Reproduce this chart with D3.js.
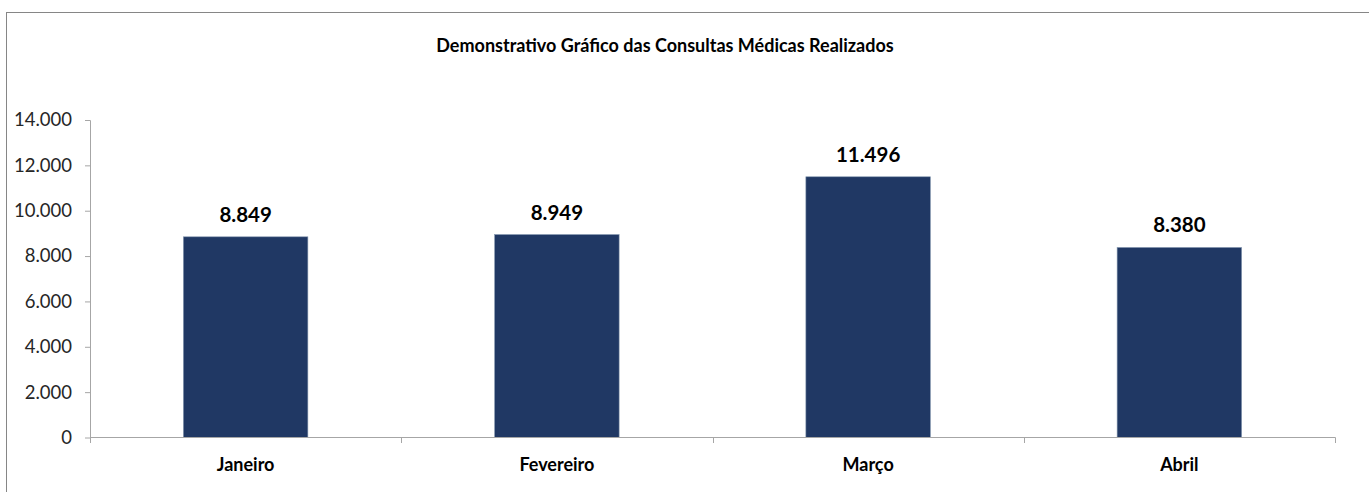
<!DOCTYPE html>
<html><head><meta charset="utf-8">
<script src="https://cdn.jsdelivr.net/npm/d3@7"></script>
<style>body{margin:0;background:#fff}svg{display:block}text{font-family:Lato,"Open Sans",sans-serif}</style>
</head><body>
<svg id="c" width="1369" height="492"></svg>
<script>
const categories = ["Janeiro","Fevereiro","Março","Abril"];
const values = [8849, 8949, 11496, 8380];
const yTicks = [0,2000,4000,6000,8000,10000,12000,14000];
const title = "Demonstrativo Gráfico das Consultas Médicas Realizados";

const svg = d3.select("#c");
const fmt = v => d3.format(",")(v).replace(/,/g, ".");
svg.append("rect").attr("x",6.5).attr("y",12.5).attr("width",1400).attr("height",600)
  .attr("fill","#fff").attr("stroke","#868686").attr("stroke-width",1);

const x = d3.scaleBand().domain(categories).range([90,1335]).paddingInner(0.6).paddingOuter(0.3);
const y = d3.scaleLinear().domain([0,14000]).range([437.5,120]);

// y axis
const ya = svg.append("g").attr("transform","translate(90,0)")
  .call(d3.axisLeft(y).tickValues(yTicks).tickFormat(fmt).tickSize(5).tickPadding(13));
ya.select(".domain").attr("stroke","#a6a6a6").attr("d","M-5,120.5H0.5V437.5");
ya.selectAll(".tick line").attr("stroke","#a6a6a6");
ya.selectAll(".tick text").attr("font-size",18.5).attr("fill","#262626").style("font-family","Lato");

// bars
svg.selectAll("rect.bar").data(values).join("rect").attr("class","bar")
  .attr("x",(d,i)=>x(categories[i])).attr("width",x.bandwidth())
  .attr("y",d=>y(d)).attr("height",d=>y(0)-y(d))
  .attr("fill","#203864").attr("stroke","#8497b0").attr("stroke-width",0.6);

// x axis
const step = (1335-90)/categories.length;
const xa = svg.append("g").attr("transform","translate(0,437.5)")
  .call(d3.axisBottom(x).tickSize(0).tickPadding(21));
xa.select(".domain").attr("stroke","#a6a6a6").attr("d","M90,0H1335.5");
xa.selectAll(".tick text").attr("font-size",18).attr("font-weight","bold").attr("fill","#000").style("font-family","Lato");
svg.selectAll("line.xt").data(d3.range(categories.length+1)).join("line").attr("class","xt")
  .attr("x1",i=>Math.round(90+i*step)+0.5).attr("x2",i=>Math.round(90+i*step)+0.5)
  .attr("y1",437.5).attr("y2",443).attr("stroke","#a6a6a6");

// value labels
svg.selectAll("text.val").data(values).join("text").attr("class","val")
  .attr("x",(d,i)=>x(categories[i])+x.bandwidth()/2).attr("y",d=>y(d)-15)
  .attr("text-anchor","middle").attr("font-size",20.5).attr("font-weight","bold").attr("fill","#000")
  .text(fmt);

// title
svg.append("text").attr("x",665).attr("y",52).attr("text-anchor","middle")
  .attr("font-size",18).attr("font-weight","bold").attr("fill","#000").text(title);
</script>
</body></html>
